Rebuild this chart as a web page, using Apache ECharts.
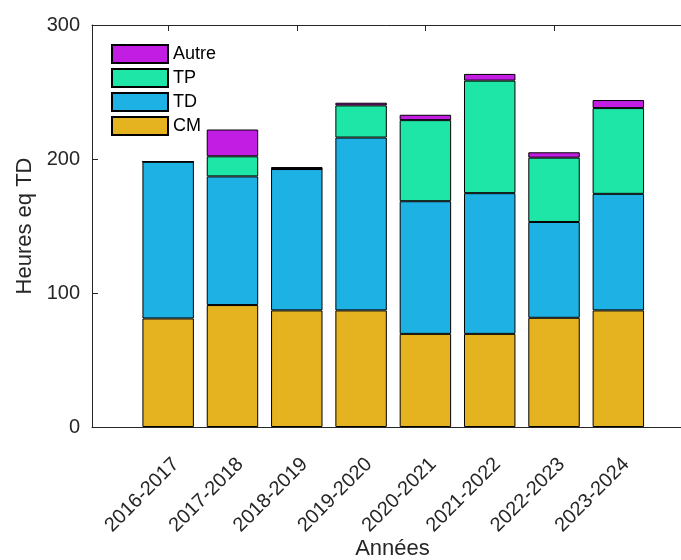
<!DOCTYPE html>
<html>
<head>
<meta charset="utf-8">
<script src="https://cdn.jsdelivr.net/npm/echarts@6/dist/echarts.min.js"></script>
<style>html,body{margin:0;padding:0;background:#fff;}#c{width:681px;height:560px;}</style>
</head>
<body>
<div id="c"></div>
<script>
var categories = ['2016-2017','2017-2018','2018-2019','2019-2020','2020-2021','2021-2022','2022-2023','2023-2024'];
var CM    = [81, 91, 87, 87, 69.5, 69.5, 81.5, 87];
var TD    = [117, 96, 105.5, 129, 99, 105, 71.5, 87];
var TP    = [0, 15, 0, 24, 60.5, 84, 48, 64];
var Autre = [0, 20, 1.5, 2, 4, 5, 4, 6];
var yTicks = [0, 100, 200, 300];

var FONT = 'Liberation Sans';
var AX = '#262626';
var colors = {CM:'#E4B31F', TD:'#1EB2E4', TP:'#1EE6A6', Autre:'#C21DE3'};

function barSeries(name, data) {
  return {
    name: name, type: 'bar', stack: 'total', xAxisIndex: 2, yAxisIndex: 1,
    barWidth: '80%', data: data,
    itemStyle: {color: colors[name], borderColor: '#000', borderWidth: 1},
    emphasis: {disabled: true}
  };
}

var chart = echarts.init(document.getElementById('c'), null, {renderer: 'canvas'});
chart.setOption({
  animation: false,
  backgroundColor: '#fff',
  textStyle: {fontFamily: FONT},
  grid: [
    {left: 92, right: -12, top: 25, bottom: 133, outerBoundsMode: 'none', containLabel: false},
    {left: 136, right: 30.5, top: 25, bottom: 133, outerBoundsMode: 'none', containLabel: false}
  ],
  legend: {
    orient: 'vertical', left: 111, top: 44, padding: 0,
    itemWidth: 56, itemHeight: 18, itemGap: 4,
    data: ['Autre', 'TP', 'TD', 'CM'],
    textStyle: {fontSize: 18, lineHeight: 18, color: '#000', fontFamily: FONT},
    icon: 'rect', selectedMode: false
  },
  xAxis: [
    {type: 'value', gridIndex: 0, min: 0, max: 1, position: 'bottom',
     axisLine: {show: true, lineStyle: {color: AX, width: 1}},
     axisTick: {show: false}, axisLabel: {show: false}, splitLine: {show: false},
     name: 'Années', nameLocation: 'middle', nameGap: 111,
     nameTextStyle: {fontSize: 22, color: AX, fontFamily: FONT}},
    {type: 'value', gridIndex: 0, min: 0, max: 1, position: 'top',
     axisLine: {show: true, lineStyle: {color: AX, width: 1}},
     axisTick: {show: false}, axisLabel: {show: false}, splitLine: {show: false}},
    {type: 'category', gridIndex: 1, data: categories, position: 'bottom',
     axisLine: {show: false},
     axisTick: {show: true, inside: true, alignWithLabel: true, length: 6, lineStyle: {color: AX}},
     axisLabel: {rotate: 45, fontSize: 20, color: AX, margin: 42, padding: [0, -11, 0, 0], fontFamily: FONT, interval: 0}},
    {type: 'category', gridIndex: 1, data: categories, position: 'top',
     axisLine: {show: false},
     axisTick: {show: true, inside: true, alignWithLabel: true, length: 6, lineStyle: {color: AX}},
     axisLabel: {show: false}}
  ],
  yAxis: [
    {type: 'value', gridIndex: 0, min: yTicks[0], max: yTicks[yTicks.length-1], interval: 100,
     axisLine: {show: true, lineStyle: {color: AX, width: 1}},
     axisTick: {show: true, inside: true, length: 6, lineStyle: {color: AX}},
     axisLabel: {fontSize: 20, color: AX, margin: 12, fontFamily: FONT},
     splitLine: {show: false},
     name: 'Heures eq TD', nameLocation: 'middle', nameGap: 52, nameRotate: 90,
     nameTextStyle: {fontSize: 22, color: AX, fontFamily: FONT}},
    {type: 'value', gridIndex: 1, min: 0, max: 300, show: false, splitLine: {show: false}}
  ],
  series: [
    barSeries('CM', CM),
    barSeries('TD', TD),
    barSeries('TP', TP),
    barSeries('Autre', Autre)
  ]
});
</script>
</body>
</html>
